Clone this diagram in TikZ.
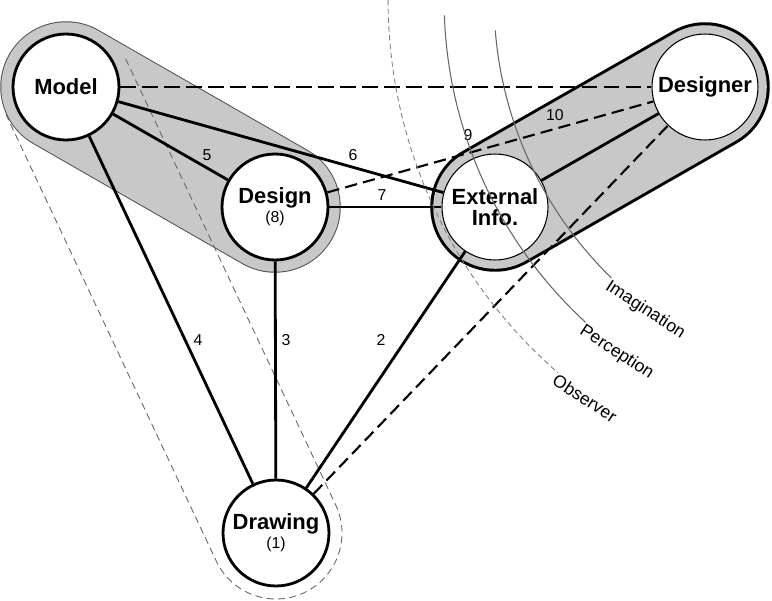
\documentclass[tikz,border=0pt]{standalone}
\usepackage{fontspec}
\setmainfont{Liberation Sans}
\usetikzlibrary{calc}
\definecolor{capsule}{HTML}{C8C8C8}
\tikzset{
  hub/.style={circle,draw,fill=white,line width=1.6pt,minimum size=2.12cm,inner sep=0pt,font=\fontsize{12.5}{13}\selectfont\bfseries,align=center},
  inner hub/.style={hub,line width=0.6pt},
  link/.style={line width=1.6pt},
  cue/.style={line width=1.2pt,dash pattern=on 7pt off 3.5pt},
  num/.style={font=\fontsize{9}{10}\selectfont},
  sphere/.style={draw=black!60,line width=0.6pt},
  tag/.style={font=\fontsize{10}{11}\selectfont,rotate=-33,anchor=north west,inner sep=0pt}
}
\begin{document}
\begin{tikzpicture}[x=0.02cm,y=0.02cm]
  \useasboundingbox (0,0) rectangle (772,600);
  % nodes
  \coordinate (M) at (66,513);
  \coordinate (D) at (275,393);
  \coordinate (E) at (495,393);
  \coordinate (G) at (705,513);
  \coordinate (W) at (276,67);
  \coordinate (eye) at (882,600);
  % capsules
  \draw[line width=74.8pt,line cap=round,black!70] (M) -- (D);
  \draw[line width=73.7pt,line cap=round,capsule] (M) -- (D);
  \draw[line width=73.7pt,line cap=round,black] (E) -- (G);
  \draw[line width=70.3pt,line cap=round,capsule] (E) -- (G);
  \draw[black!60,line width=0.5pt,dash pattern=on 4pt off 2.5pt]
    ($(M)+(25.2:1.32cm)$) -- ($(W)+(25.2:1.32cm)$)
    arc[start angle=25.2,end angle=-154.8,radius=1.32cm]
    -- ($(M)+(205.2:1.32cm)$);
  \node[hub] (Model) at (M) {Model};
  \node[hub] (Design) at (D) {Design\\[-2pt]{\fontsize{9}{10}\selectfont\mdseries(8)}};
  \node[inner hub] (External) at (E) {External\\[-1pt]Info.};
  \node[inner hub] (Designer) at (G) {Designer};
  \node[hub] (Drawing) at (W) {Drawing\\[-2pt]{\fontsize{9}{10}\selectfont\mdseries(1)}};
  % connectors
  \draw[link] (Model) -- (Drawing);
  \draw[link] (Model) -- (Design);
  \draw[link] (Model) -- (External);
  \draw[link] (Design) -- (External);
  \draw[link] (Design) -- (Drawing);
  \draw[link] (External) -- (Drawing);
  \draw[link] (External) -- (Designer);
  \draw[cue,dash pattern=on 9pt off 3.5pt] (Model) -- (Designer);
  \draw[cue] (Design) -- (Designer);
  \draw[cue] (Drawing) -- (Designer);
  \node[num] (n2) at (381,260) {2};
  \node[num] (n3) at (286,260) {3};
  \node[num] (n4) at (198,260) {4};
  \node[num] (n5) at (207,445) {5};
  \node[num] (n6) at (353,445) {6};
  \node[num] (n7) at (382,405) {7};
  \node[num] (n9) at (468,465) {9};
  \node[num] (n10) at (555,485) {10};
  % spheres
  \draw[sphere,black!50,line width=0.5pt,dash pattern=on 3pt off 2pt] (eye) ++(180:9.88cm) arc[start angle=180,end angle=229,radius=9.88cm] coordinate (obs);
  \draw[sphere] (eye) ++(182:8.76cm) arc[start angle=182,end angle=227.4,radius=8.76cm] coordinate (per);
  \draw[sphere] (eye) ++(184.5:7.76cm) arc[start angle=184.5,end angle=225.8,radius=7.76cm] coordinate (ima);
  \node[tag] (Observer) at (obs) {Observer};
  \node[tag] (Perception) at (per) {Perception};
  \node[tag] (Imagination) at (ima) {Imagination};
\end{tikzpicture}
\end{document}
